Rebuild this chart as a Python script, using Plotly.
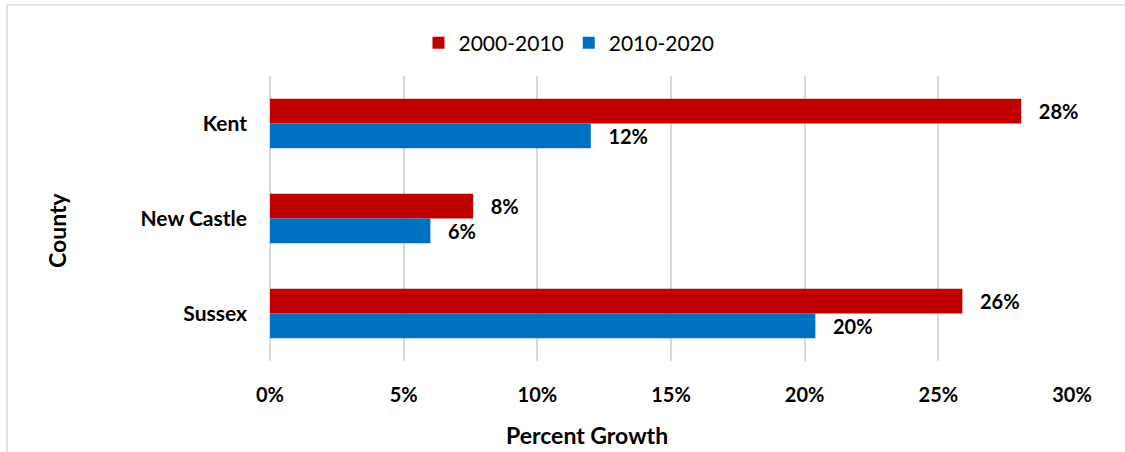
import plotly.graph_objects as go

# data
counties = ["Kent", "New Castle", "Sussex"]
growth_2000_2010 = [0.281, 0.076, 0.259]
growth_2010_2020 = [0.120, 0.060, 0.204]
x_ticks = [0, 0.05, 0.10, 0.15, 0.20, 0.25, 0.30]
x_tick_labels = ["0%", "5%", "10%", "15%", "20%", "25%", "30%"]

RED = "#C00000"
BLUE = "#0070C0"
FONT = "Lato, Open Sans, sans-serif"

W, H = 1125, 452
L, R, T, B = 270, 53, 76, 91

fig = go.Figure()
for name, vals, col in [("2000-2010", growth_2000_2010, RED),
                        ("2010-2020", growth_2010_2020, BLUE)]:
    fig.add_trace(go.Bar(
        y=counties, x=vals, name=name, orientation="h",
        marker=dict(color=col, line=dict(width=0)),
        texttemplate="   %{x:.0%}", textposition="outside",
        textfont=dict(family=FONT, size=20, color="#000000", weight="bold"),
        cliponaxis=False,
    ))

fig.update_layout(
    width=W, height=H,
    margin=dict(l=L, r=R, t=T, b=B),
    barmode="group", bargap=0.48, bargroupgap=0,
    plot_bgcolor="white", paper_bgcolor="white",
    font=dict(family=FONT, color="#000000"),
    showlegend=True,
    legend=dict(orientation="h", x=569 / W, xref="container", xanchor="center",
                y=1 - 43 / H, yref="container", yanchor="middle",
                bgcolor="rgba(0,0,0,0)",
                font=dict(family=FONT, size=21, color="#000000"),
                traceorder="normal"),
)

fig.update_xaxes(
    range=[0, 0.30], tickvals=x_ticks, ticktext=x_tick_labels,
    showgrid=True, gridcolor="#D9D9D9", gridwidth=1.5,
    zeroline=True, zerolinecolor="#D9D9D9", zerolinewidth=1.5,
    showline=False, ticks="", ticklabelstandoff=20,
    tickfont=dict(family=FONT, size=20, weight="bold"),
)
fig.update_yaxes(
    autorange="reversed", showgrid=False, showline=False, ticks="",
    ticklabelstandoff=22,
    tickfont=dict(family=FONT, size=21, weight="bold"),
)

# axis titles
pw, ph = W - L - R, H - T - B
fig.add_annotation(text="Percent Growth", xref="paper", yref="paper",
                   x=(587 - L) / pw, y=-(435 - (H - B)) / ph,
                   showarrow=False, xanchor="center", yanchor="middle",
                   font=dict(family=FONT, size=23, weight="bold"))
fig.add_annotation(text="County", xref="paper", yref="paper",
                   x=-(L - 57) / pw, y=1 - (230 - T) / ph,
                   textangle=-90, showarrow=False, xanchor="center", yanchor="middle",
                   font=dict(family=FONT, size=23, weight="bold"))

# chart frame (top and left edges)
fx0 = -(L - 7) / pw
fy1 = 1 + (T - 5) / ph
fy0 = -(B + 5) / ph
fig.add_shape(type="line", xref="paper", yref="paper", x0=fx0, x1=(W - L) / pw,
              y0=fy1, y1=fy1, line=dict(color="#D9D9D9", width=1.5))
fig.add_shape(type="line", xref="paper", yref="paper", x0=fx0, x1=fx0,
              y0=fy0, y1=fy1, line=dict(color="#D9D9D9", width=1.5))

# drop the default page margin so the figure sits at the window's corner
fig.write_html("out.html", config={"displayModeBar": False},
               post_script="document.body.style.margin='0';")
